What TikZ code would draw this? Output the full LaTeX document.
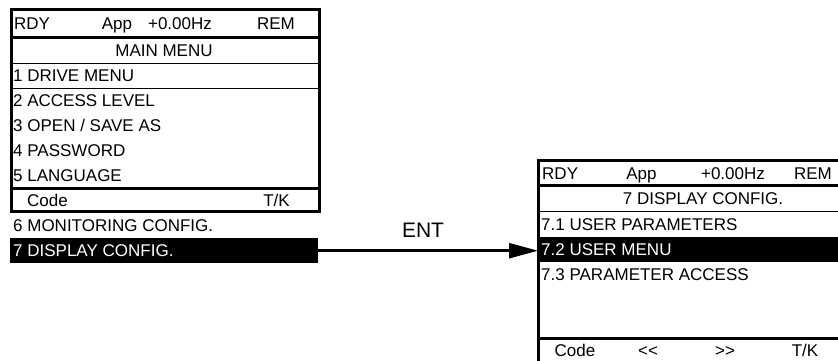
\documentclass[tikz,border=0pt]{standalone}
\usepackage{fontspec}
\setmainfont{Liberation Sans}
\usetikzlibrary{arrows.meta}
\begin{document}
\begin{tikzpicture}[x=1pt,y=-1pt,
  txt/.style={inner sep=0pt, font=\fontsize{17}{19}\selectfont, anchor=base west},
  ctxt/.style={inner sep=0pt, font=\fontsize{17}{19}\selectfont, anchor=base},
  wtxt/.style={txt, text=white},
  frame/.style={line width=3pt},
  heavy/.style={line width=3pt},
  light/.style={line width=1pt},
  selbar/.style={fill=black, draw=none, inner sep=0pt, anchor=north west, minimum height=25pt},
  connector/.style={line width=2.5pt, -{Triangle[length=29pt,width=15pt]}},
  entlbl/.style={inner sep=0pt, font=\fontsize{21}{24}\selectfont, anchor=base}
]
\useasboundingbox (0,0) rectangle (838,360);
\clip (0,0) rectangle (838,360);

% ---------- left screen ----------
\draw[frame] (11.5,9.5) rectangle (319.5,211.5);
\draw[heavy] (10,37) -- (321,37);
\draw[light] (10,63) -- (321,63);
\draw[light] (10,88) -- (321,88);
\draw[heavy] (10,188.5) -- (321,188.5);

\node[txt] (l-rdy) at (14,29) {RDY};
\node[ctxt] (l-app) at (117,29) {App};
\node[ctxt] (l-hz) at (180,29) {+0.00Hz};
\node[ctxt] (l-rem) at (276,29) {REM};
\node[ctxt] (l-title) at (164,56) {MAIN MENU};
\node[txt] (l-r1) at (13,81.5) {1 DRIVE MENU};
\node[txt] (l-r2) at (13,106.5) {2 ACCESS LEVEL};
\node[txt] (l-r3) at (13,131.5) {3 OPEN / SAVE AS};
\node[txt] (l-r4) at (13,156.5) {4 PASSWORD};
\node[txt] (l-r5) at (13,181.5) {5 LANGUAGE};
\node[ctxt] (l-code) at (47.5,206) {Code};
\node[ctxt] (l-tk) at (276.5,206) {T/K};
\node[txt] (l-r6) at (13,231.5) {6 MONITORING CONFIG.};
\node[selbar, minimum width=308pt] (barL) at (10,238) {};
\node[wtxt] (l-r7) at (13,256.5) {7 DISPLAY CONFIG.};

% ---------- right screen ----------
\node[selbar, minimum width=320pt] (barR) at (538,237) {};
\draw[frame] (538.5,160.5) rectangle (852,375);
\draw[heavy] (537,185) -- (852,185);
\draw[light] (537,211) -- (852,211);
\draw[heavy] (537,338.5) -- (852,338.5);

\node[txt] (r-rdy) at (542,179) {RDY};
\node[ctxt] (r-app) at (641.5,179) {App};
\node[ctxt] (r-hz) at (733,179) {+0.00Hz};
\node[ctxt] (r-rem) at (813,179) {REM};
\node[ctxt] (r-title) at (703,204) {7 DISPLAY CONFIG.};
\node[txt] (r-r1) at (541,230) {7.1 USER PARAMETERS};
\node[wtxt] (r-r2) at (541,255.5) {7.2 USER MENU};
\node[txt] (r-r3) at (541,280.5) {7.3 PARAMETER ACCESS};
\node[ctxt] (r-code) at (575,356.5) {Code};
\node[ctxt] (r-prev) at (648,356.5) {{<}{<}};
\node[ctxt] (r-next) at (725,356.5) {{>}{>}};
\node[ctxt] (r-tk) at (805,356.5) {T/K};

% ---------- connector ----------
\draw[connector] (barL.east) -- (barL.east -| barR.west);
\node[entlbl] (ent) at (423,237.5) {ENT};
\end{tikzpicture}
\end{document}
